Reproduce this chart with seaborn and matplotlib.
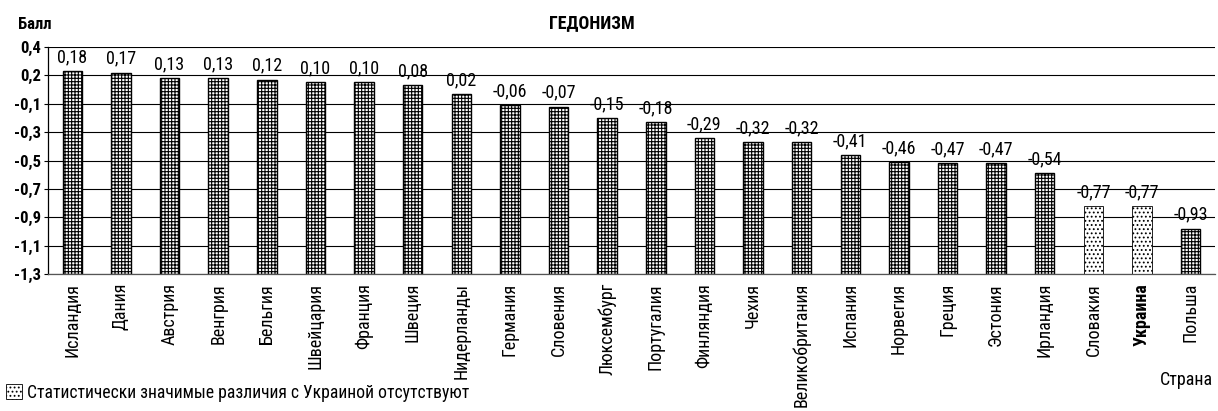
import matplotlib
matplotlib.use("Agg")
import matplotlib.pyplot as plt
from matplotlib import font_manager
from matplotlib.patches import Patch
import pandas as pd
import seaborn as sns

countries = ["Исландия", "Дания", "Австрия", "Венгрия", "Бельгия", "Швейцария",
             "Франция", "Швеция", "Нидерланды", "Германия", "Словения", "Люксембург",
             "Португалия", "Финляндия", "Чехия", "Великобритания", "Испания",
             "Норвегия", "Греция", "Эстония", "Ирландия", "Словакия", "Украина", "Польша"]
scores = [0.18, 0.17, 0.13, 0.13, 0.12, 0.10, 0.10, 0.08, 0.02, -0.06, -0.07, -0.15,
          -0.18, -0.29, -0.32, -0.32, -0.41, -0.46, -0.47, -0.47, -0.54, -0.77, -0.77, -0.93]
# страны без статистически значимых различий с Украиной
no_difference = ["Словакия", "Украина"]

y_ticks = [-1.25, -1.05, -0.85, -0.65, -0.45, -0.25, -0.05, 0.15, 0.35]
y_tick_labels = ["-1,3", "-1,1", "-0,9", "-0,7", "-0,5", "-0,3", "-0,1", "0,2", "0,4"]
base = y_ticks[0]

sns.set_style("white")

# узкий шрифт, если он есть
installed = {f.name for f in font_manager.fontManager.ttflist}
narrow = [n for n in ["Liberation Sans Narrow", "Roboto Condensed", "Arial Narrow"] if n in installed]
if narrow:
    plt.rcParams["font.family"] = [narrow[0], "DejaVu Sans"]
    k = 1.0
else:
    plt.rcParams["font.family"] = ["Liberation Sans", "DejaVu Sans"]
    k = 0.85
plt.rcParams["text.color"] = "black"
plt.rcParams["xtick.color"] = "black"
plt.rcParams["ytick.color"] = "black"
plt.rcParams["hatch.linewidth"] = 0.8

df = pd.DataFrame({"country": countries, "score": scores})
df["height"] = df["score"] - base

fig = plt.figure(figsize=(12.18, 4.11), dpi=100)
ax = fig.add_axes([0.0394, 0.3333, 0.9581, 0.5523])

sns.barplot(data=df, x="country", y="height", bottom=base, width=0.4,
            color="white", edgecolor="black", linewidth=1.0, ax=ax)

for bar, name in zip(ax.patches, countries):
    if name in no_difference:
        bar.set_hatch("....")
        bar.set_linewidth(0.6)
    else:
        bar.set_hatch("+++++")

for i, v in enumerate(scores):
    ax.annotate(f"{v:.2f}".replace(".", ","), (i, v), xytext=(0, 10),
                textcoords="offset points", ha="center", va="center", fontsize=13 * k)

ax.set_ylim(base, y_ticks[-1])
ax.set_xlim(-0.5, len(countries) - 0.5)
ax.set_yticks(y_ticks)
ax.set_yticklabels(y_tick_labels, fontsize=12 * k, fontweight="bold")
ax.yaxis.grid(True, color="black", linewidth=0.8)
ax.set_axisbelow(True)
ax.tick_params(axis="y", left=True, length=3, width=0.8, pad=2)
ax.tick_params(axis="x", bottom=False, pad=3)
ax.set_xticks(range(len(countries)))
ax.set_xticklabels(countries, rotation=90, fontsize=13 * k)
for lbl in ax.get_xticklabels():
    if lbl.get_text() == "Украина":
        lbl.set_fontweight("bold")

for side in ["top", "right"]:
    ax.spines[side].set_visible(False)
ax.spines["left"].set_color("black")
ax.spines["left"].set_linewidth(0.9)
ax.spines["bottom"].set_color("#555555")
ax.spines["bottom"].set_linewidth(0.9)
ax.set_xlabel("")
ax.set_ylabel("")

fig.text(0.015, 0.94, "Балл", fontsize=12 * k, fontweight="bold", va="center")
fig.text(0.486, 0.944, "ГЕДОНИЗМ", fontsize=13 * k, fontweight="bold", ha="center", va="center")
fig.text(0.996, 0.075, "Страна", fontsize=13 * k, ha="right", va="center")

handle = Patch(facecolor="white", edgecolor="black", hatch="....", linewidth=0.6)
fig.legend([handle], ["Статистически значимые различия с Украиной отсутствуют"],
           loc="lower left", bbox_to_anchor=(-0.008, -0.016), frameon=False,
           fontsize=12.7 * k, handlelength=0.9, handleheight=0.9, handletextpad=0.3)

fig.savefig("out.png", dpi=100)
